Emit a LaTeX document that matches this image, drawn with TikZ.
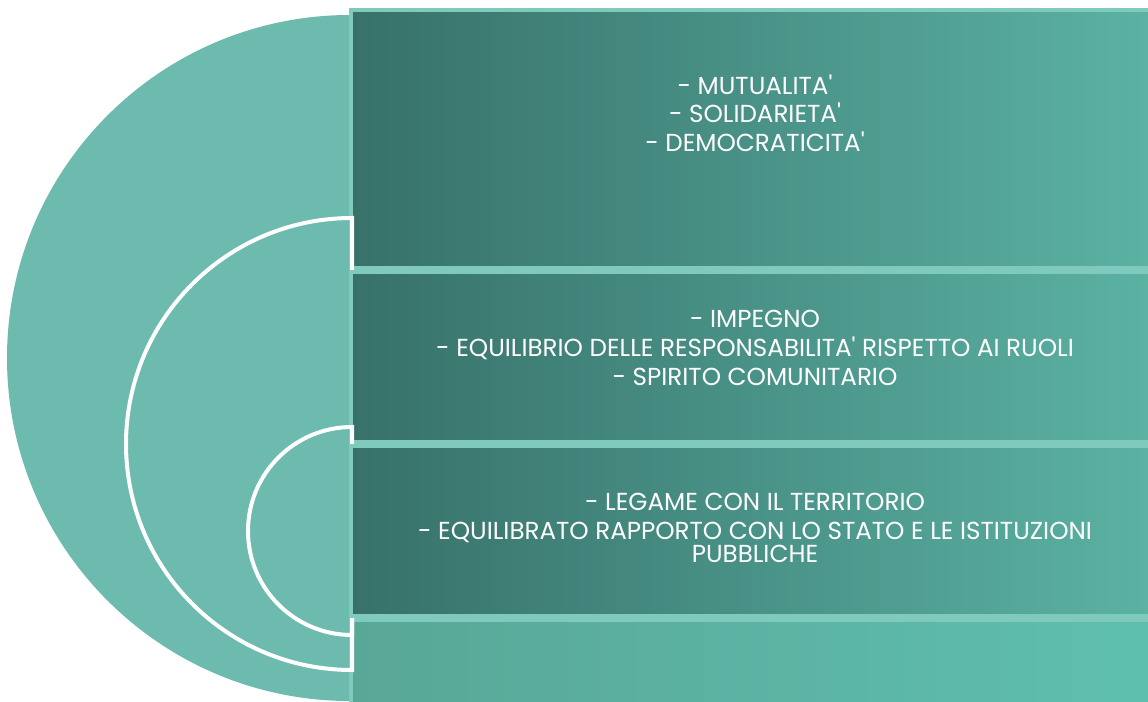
\documentclass[tikz,border=0pt]{standalone}
\usepackage{fontspec}
\setmainfont{Poppins}[Ligatures=TeXOff]
\definecolor{discteal}{HTML}{6CBBAE}
\definecolor{edgeteal}{HTML}{7FCABC}
\definecolor{darkteal}{HTML}{37716A}
\definecolor{paleteal}{HTML}{5BB2A3}
\definecolor{stripleft}{HTML}{59A797}
\definecolor{stripright}{HTML}{5EBFAE}

\begin{document}
\begin{tikzpicture}[x=0.5pt,y=-0.5pt,
    box/.style={draw=edgeteal, line width=2pt, left color=darkteal, right color=paleteal},
    ring/.style={draw=white, line width=2pt},
    boxtext/.style={text=white, align=center, inner sep=0pt, font=\fontsize{12.3}{14.3}\selectfont}]
        \useasboundingbox (0,0) rectangle (1148,702);

        % Big half disc
        \fill[discteal] (350,15) arc[start angle=270, end angle=90, radius=343] -- cycle;

        % Bottom strip
        \draw[box, left color=stripleft, right color=stripright] (351,620) rectangle (1152,704);

        % Top box and middle ring
        \draw[box] (351,10) rectangle (1152,268);
        \draw[ring] (352,218) arc[start angle=270, end angle=90, radius=226] -- cycle;

        % Second box and small ring
        \draw[box] (351,272) rectangle (1152,442);
        \draw[ring] (352,427) arc[start angle=270, end angle=90, radius=104] -- cycle;

        % Third box
        \draw[box] (351,446) rectangle (1152,616);

        % Texts
        \node[boxtext] (values) at (755,113) {- MUTUALITA'\\- SOLIDARIETA'\\- DEMOCRATICITA'};
        \node[boxtext] (duties) at (755,348) {- IMPEGNO\\- EQUILIBRIO DELLE RESPONSABILITA' RISPETTO AI RUOLI\\- SPIRITO COMUNITARIO};
        \node[boxtext] (ties) at (755,528) {- LEGAME CON IL TERRITORIO\\- EQUILIBRATO RAPPORTO CON LO STATO E LE ISTITUZIONI\\[-2.5pt]PUBBLICHE};
\end{tikzpicture}
\end{document}
